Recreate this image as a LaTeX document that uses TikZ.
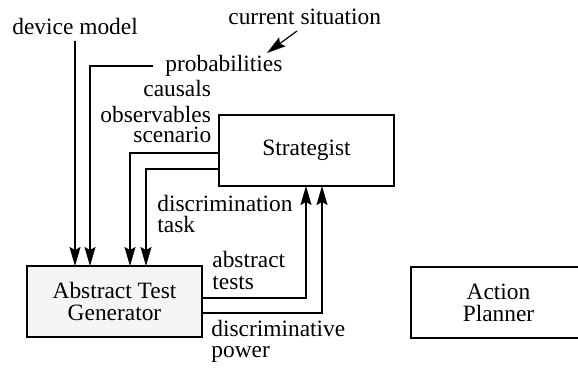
\documentclass[tikz,border=0pt]{standalone}
\usepackage{fontspec}
\setmainfont{Liberation Serif}
\usetikzlibrary{arrows.meta}
\begin{document}
\begin{tikzpicture}[x=0.5pt,y=-0.5pt,
  every node/.style={font=\fontsize{11.7}{11}\selectfont},
  lbl/.style={anchor=base west,inner sep=0pt},
  box/.style={draw,line width=0.6pt,minimum width=87.5pt,minimum height=35.5pt,inner sep=0pt,align=center},
  arr/.style={line width=0.6pt,-{Stealth[length=9.5pt,width=5.5pt,inset=1.5pt]}},
  ln/.style={line width=0.6pt}]
\useasboundingbox (0,0) rectangle (578,368);
% boxes
\node[box,fill=black!4] (gen) at (114.5,301.5) {Abstract Test\\Generator};
\node[box] (strat) at (306.5,150.5) {Strategist};
\node[box] (plan) at (498.5,302.5) {Action\\Planner};
% labels
\node[lbl] (devm) at (12,35) {device model};
\node[lbl] (cur) at (228,25) {current situation};
\node[lbl] (prob) at (165,72) {probabilities};
\node[lbl] (caus) at (143,97) {causals};
\node[lbl] (obs) at (100,123) {observables};
\node[lbl] (scen) at (133,143) {scenario};
\node[lbl] (disc1) at (157,212) {discrimination};
\node[lbl] (disc2) at (157,233) {task};
\node[lbl] (abs1) at (212,268) {abstract};
\node[lbl] (abs2) at (212,290) {tests};
\node[lbl] (pow1) at (211,337) {discriminative};
\node[lbl] (pow2) at (211,358) {power};
% connector points
\coordinate (d0) at (75,41);
\coordinate (p0) at (153,66);
\coordinate (c0) at (297,31);
\coordinate (c1) at (267,53);
\coordinate (g1) at (75,266);
\coordinate (g2) at (90,266);
\coordinate (g3) at (130,266);
\coordinate (g4) at (146,266);
\coordinate (g5) at (202,298);
\coordinate (g6) at (202,313);
\coordinate (s1) at (219,153);
\coordinate (s2) at (219,169);
\coordinate (s3) at (306,186);
\coordinate (s4) at (322,186);
% connectors
\draw[arr] (d0) -- (g1);
\draw[arr] (p0) -| (g2);
\draw[arr] (s1) -| (g3);
\draw[arr] (s2) -| (g4);
\draw[arr] (g5) -| (s3);
\draw[arr] (g6) -| (s4);
\draw[arr] (c0) -- (c1);
\end{tikzpicture}
\end{document}
